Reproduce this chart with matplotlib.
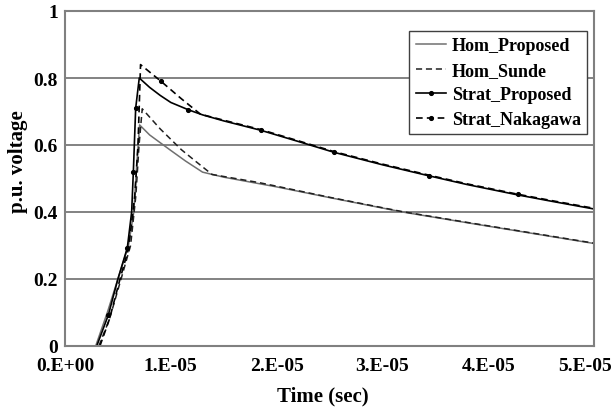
import matplotlib
matplotlib.use("Agg")
import matplotlib.pyplot as plt
import matplotlib.transforms as mtransforms
import numpy as np

# time in microseconds, voltage in p.u.
hom_prop_t = [2.9, 4.0, 5.0, 6.0, 6.5, 6.8, 7.05, 8.0, 9.9, 11.4, 13.0, 15.0, 17.4, 20.0, 25.0, 31.9, 38.0, 44.0, 50.0]
hom_prop_v = [0.0, 0.10, 0.20, 0.30, 0.40, 0.55, 0.66, 0.630, 0.586, 0.552, 0.519, 0.504, 0.490, 0.475, 0.443, 0.400, 0.368, 0.337, 0.306]

hom_sunde_t = [3.2, 4.2, 5.3, 6.2, 6.7, 7.0, 7.3, 9.0, 11.0, 12.4, 13.9, 18.3, 20.0, 25.0, 31.9, 38.0, 44.0, 50.0]
hom_sunde_v = [0.0, 0.08, 0.20, 0.30, 0.45, 0.60, 0.708, 0.648, 0.586, 0.550, 0.512, 0.488, 0.477, 0.444, 0.401, 0.369, 0.338, 0.307]

strat_prop_t = [3.0, 4.1, 5.0, 5.89, 6.3, 6.46, 6.68, 7.02, 8.0, 9.0, 10.0, 11.67, 13.0, 15.0, 18.5, 22.0, 25.45, 30.0, 34.4, 38.0, 42.8, 46.0, 50.0]
strat_prop_v = [0.0, 0.093, 0.20, 0.293, 0.40, 0.52, 0.71, 0.80, 0.772, 0.748, 0.727, 0.705, 0.690, 0.672, 0.644, 0.611, 0.578, 0.541, 0.508, 0.482, 0.451, 0.432, 0.409]
strat_prop_marks = [1, 3, 5, 6, 11, 14, 18]

strat_naka_t = [3.3, 4.2, 5.2, 6.0, 6.6, 6.9, 7.14, 9.08, 11.0, 12.8, 15.0, 18.5, 22.0, 25.45, 30.0, 34.4, 38.0, 42.8, 46.0, 50.0]
strat_naka_v = [0.0, 0.08, 0.20, 0.29, 0.45, 0.60, 0.84, 0.79, 0.738, 0.692, 0.674, 0.646, 0.613, 0.580, 0.543, 0.510, 0.484, 0.453, 0.434, 0.411]
strat_naka_marks = [7, 13, 17]

x_ticks = [0, 1e-5, 2e-5, 3e-5, 4e-5, 5e-5]
x_labels = ["0.E+00", "1.E-05", "2.E-05", "3.E-05", "4.E-05", "5.E-05"]
y_ticks = [0, 0.2, 0.4, 0.6, 0.8, 1.0]
y_labels = ["0", "0.2", "0.4", "0.6", "0.8", "1"]

plt.rcParams.update({
    "font.family": ["Liberation Serif", "DejaVu Serif"],
    "font.weight": "bold",
})

fig = plt.figure(figsize=(6.11, 4.10), dpi=100)
ax = fig.add_axes([65 / 611, 63 / 410, 529 / 611, 335 / 410])

us = 1e-6
ax.plot(np.array(hom_prop_t) * us, hom_prop_v, color="#707070", lw=1.1, label="Hom_Proposed")
ax.plot(np.array(hom_sunde_t) * us, hom_sunde_v, color="#202020", lw=1.1, ls=(0, (4, 2.5)), label="Hom_Sunde")
ax.plot(np.array(strat_prop_t) * us, strat_prop_v, color="black", lw=1.2, marker="o", ms=2.7,
        markevery=strat_prop_marks, label="Strat_Proposed")
ax.plot(np.array(strat_naka_t) * us, strat_naka_v, color="black", lw=1.2, ls=(0, (4, 2.5)), marker="o", ms=2.7,
        markevery=strat_naka_marks, label="Strat_Nakagawa")

ax.set_xlim(0, 5e-5)
ax.set_ylim(0, 1)
ax.set_xticks(x_ticks)
ax.set_xticklabels(x_labels)
ax.set_yticks(y_ticks)
ax.set_yticklabels(y_labels)
ax.tick_params(axis="both", length=0, labelsize=14)
ax.tick_params(axis="x", pad=8)
ax.tick_params(axis="y", pad=5)

ax.yaxis.grid(True, color="#787878", lw=1.3)
ax.set_axisbelow(True)
for sp in ax.spines.values():
    sp.set_color("#808080")
    sp.set_linewidth(1.5)

# last x label nudged left to stay inside the figure
last = ax.get_xticklabels()[-1]
last.set_transform(last.get_transform() + mtransforms.ScaledTranslation(-9 / 100, 0, fig.dpi_scale_trans))

ax.set_xlabel("Time (sec)", fontsize=15, fontweight="bold")
ax.xaxis.set_label_coords((323 - 65) / 529, -(386 - 347) / 335)
ax.set_ylabel("p.u. voltage", fontsize=15, fontweight="bold")
ax.yaxis.set_label_coords((28 - 65) / 529, (347 - 162) / 335)

leg = ax.legend(loc="upper right", bbox_to_anchor=((587 - 65) / 529, (347 - 32) / 335), borderaxespad=0,
                fontsize=13, handlelength=1.7, handletextpad=0.3, labelspacing=0.42, borderpad=0.35,
                fancybox=False, framealpha=1, edgecolor="#404040")
leg.get_frame().set_linewidth(1.0)

fig.savefig("out.png", dpi=100, facecolor="white")
